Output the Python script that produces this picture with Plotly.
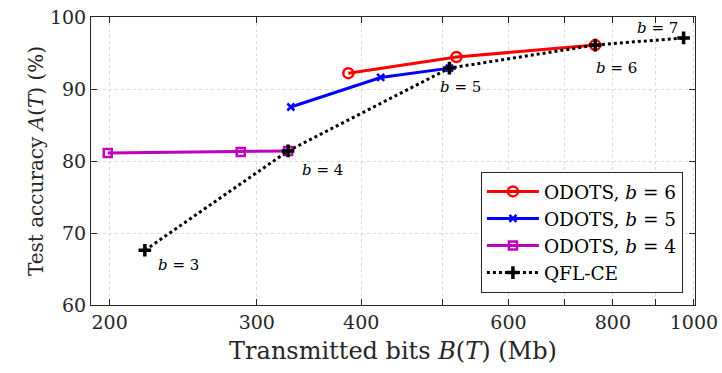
import math
import plotly.graph_objects as go

# Data
odots6_bits = [386, 520, 762]
odots6_acc = [92.2, 94.45, 96.1]
odots5_bits = [329.5, 422, 510]
odots5_acc = [87.5, 91.6, 92.9]
odots4_bits = [199, 287, 327]
odots4_acc = [81.1, 81.25, 81.4]
qfl_bits = [220.4, 327, 510, 762, 972]
qfl_acc = [67.6, 81.4, 92.9, 96.1, 97.1]
qfl_labels = ["<i>b</i> = 3", "<i>b</i> = 4", "<i>b</i> = 5", "<i>b</i> = 6", "<i>b</i> = 7"]

x_tickvals = [200, 300, 400, 500, 600, 700, 800, 900, 1000]
x_ticktext = ["200", "300", "400", "", "600", "", "800", "", "1000"]
y_tickvals = [60, 70, 80, 90, 100]

FONT = "DejaVu Serif"

fig = go.Figure()
fig.add_trace(go.Scatter(x=odots6_bits, y=odots6_acc, mode="lines+markers",
                         name="ODOTS, <i>b</i> = 6",
                         line=dict(color="#ff0000", width=3),
                         marker=dict(symbol="circle-open", size=10, color="#ff0000",
                                     line=dict(width=2.5, color="#ff0000"))))
fig.add_trace(go.Scatter(x=odots5_bits, y=odots5_acc, mode="lines+markers",
                         name="ODOTS, <i>b</i> = 5",
                         line=dict(color="#0000ff", width=3),
                         marker=dict(symbol="x-thin-open", size=7, color="#0000ff",
                                     line=dict(width=2.5, color="#0000ff"))))
fig.add_trace(go.Scatter(x=odots4_bits, y=odots4_acc, mode="lines+markers",
                         name="ODOTS, <i>b</i> = 4",
                         line=dict(color="#bf00bf", width=3),
                         marker=dict(symbol="square-open", size=8, color="#bf00bf",
                                     line=dict(width=2.5, color="#bf00bf"))))
fig.add_trace(go.Scatter(x=qfl_bits, y=qfl_acc, mode="lines+markers",
                         name="QFL-CE",
                         line=dict(color="#000000", width=3, dash="dot"),
                         marker=dict(symbol="cross-thin-open", size=9, color="#000000",
                                     line=dict(width=3.5, color="#000000"))))

# annotation offsets (pixels): right / down
offs = [(34, 15), (34, 19), (11, 19), (21, 23), (-26, -10)]
for xb, ya, lab, (dx, dy) in zip(qfl_bits, qfl_acc, qfl_labels, offs):
    fig.add_annotation(x=math.log10(xb), y=ya, text=lab, showarrow=False,
                       xref="x", yref="y", xshift=dx, yshift=-dy,
                       font=dict(family=FONT, size=15, color="#000"))

axis_common = dict(showline=True, linecolor="#262626", linewidth=1, mirror="ticks",
                   ticks="inside", ticklen=6, tickcolor="#262626",
                   showgrid=True, gridcolor="#d9d9d9", griddash="dot", gridwidth=1,
                   zeroline=False, automargin=False, ticklabeloverflow="allow",
                   tickfont=dict(family=FONT, size=19, color="#262626"))

fig.update_xaxes(type="log", range=[2.2788, 3.0013], tickvals=x_tickvals, ticktext=x_ticktext,
                 title=dict(text="Transmitted bits <i>B</i>(<i>T</i>) (Mb)", standoff=10,
                            font=dict(family=FONT, size=24, color="#262626")),
                 **axis_common)
fig.update_yaxes(range=[60, 100], tickvals=y_tickvals,
                 title=dict(text="Test accuracy <i>A</i>(<i>T</i>) (%)", standoff=0,
                            font=dict(family=FONT, size=20, color="#262626")),
                 **axis_common)

fig.update_layout(
    width=722, height=373,
    margin=dict(l=91, r=27, t=17, b=68),
    paper_bgcolor="white", plot_bgcolor="white",
    legend=dict(x=0.98, y=0.042, xanchor="right", yanchor="bottom",
                bgcolor="white", bordercolor="#262626", borderwidth=1,
                font=dict(family=FONT, size=18.5, color="#000"),
                tracegroupgap=0, itemwidth=52),
    showlegend=True,
)

fig.write_html("out.html", config={"displayModeBar": False},
               post_script="document.body.style.margin='0';")
